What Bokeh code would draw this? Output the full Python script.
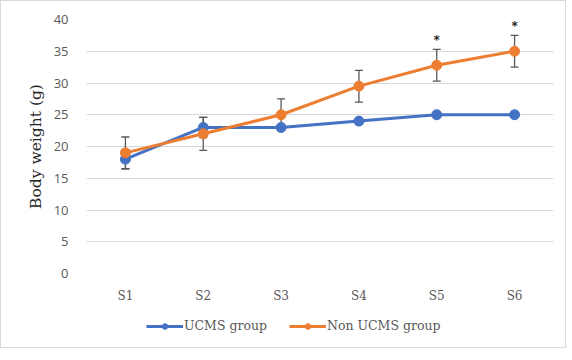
from bokeh.plotting import figure
from bokeh.layouts import column
from bokeh.models import (ColumnDataSource, FactorRange, Whisker, TeeHead, Legend, LegendItem,
                          SingleIntervalTicker, Range1d)
from bokeh.core.properties import value
from bokeh.embed import file_html
from bokeh.resources import INLINE

sessions = ["S1", "S2", "S3", "S4", "S5", "S6"]
ucms = [18, 23, 23, 24, 25, 25]
ucms_err = [1.5, 1.6, 0, 0, 0, 0]
non_ucms = [19, 22, 25, 29.5, 32.8, 35]
non_ucms_err = [2.5, 2.6, 2.5, 2.5, 2.5, 2.5]
significance = ["", "", "", "", "*", "*"]
series_names = ["UCMS group", "Non UCMS group"]

BLUE = "#4472C4"
ORANGE = "#ED7D31"
GREY = "#595959"

p = figure(x_range=FactorRange(*sessions, range_padding=0), y_range=Range1d(0, 40),
           width=564, height=304, output_backend="svg", toolbar_location=None,
           min_border_left=85, min_border_right=12, min_border_top=18, min_border_bottom=26)
p.outline_line_color = None
p.background_fill_color = "white"
p.border_fill_color = "white"

p.xgrid.grid_line_color = None
p.ygrid.grid_line_color = "#d9d9d9"
p.ygrid.grid_line_width = 1
p.yaxis.ticker = SingleIntervalTicker(interval=5)

for ax in (p.xaxis, p.yaxis):
    ax.axis_line_color = None
    ax.major_tick_line_color = None
    ax.minor_tick_line_color = None
    ax.major_label_text_color = GREY

p.yaxis.major_label_text_font = "Open Sans"
p.yaxis.major_label_text_font_size = "13px"
p.yaxis.major_label_standoff = 12
p.yaxis.axis_label = "Body weight (g)"
p.yaxis.axis_label_text_font = "DejaVu Serif"
p.yaxis.axis_label_text_font_style = "normal"
p.yaxis.axis_label_text_font_size = "15.5px"
p.yaxis.axis_label_text_color = "#262626"
p.yaxis.axis_label_standoff = 6

p.xaxis.major_label_text_font = "DejaVu Serif"
p.xaxis.major_label_text_font_size = "12px"
p.xaxis.major_label_standoff = 9

src = ColumnDataSource(dict(x=sessions, ucms=ucms, non=non_ucms))

u_idx = [i for i, e in enumerate(ucms_err) if e > 0]
src_ue = ColumnDataSource(dict(x=[sessions[i] for i in u_idx],
                               lo=[ucms[i] - ucms_err[i] for i in u_idx],
                               hi=[ucms[i] + ucms_err[i] for i in u_idx]))
src_ne = ColumnDataSource(dict(x=sessions,
                               lo=[v - e for v, e in zip(non_ucms, non_ucms_err)],
                               hi=[v + e for v, e in zip(non_ucms, non_ucms_err)]))

def whisker(source):
    w = Whisker(source=source, base="x", lower="lo", upper="hi", line_color=GREY, line_width=1.3,
                upper_head=TeeHead(size=8, line_color=GREY, line_width=1.3),
                lower_head=TeeHead(size=8, line_color=GREY, line_width=1.3))
    p.add_layout(w)

whisker(src_ue)
p.line("x", "ucms", source=src, line_color=BLUE, line_width=3)
p.scatter("x", "ucms", source=src, size=10, fill_color=BLUE, line_color=BLUE)

whisker(src_ne)
p.line("x", "non", source=src, line_color=ORANGE, line_width=3)
p.scatter("x", "non", source=src, size=10, fill_color=ORANGE, line_color=ORANGE)

star_src = ColumnDataSource(dict(x=sessions, y=[v + e + 1.4 for v, e in zip(non_ucms, non_ucms_err)],
                                 t=significance))
p.text("x", "y", text="t", source=star_src, text_align="center", text_baseline="middle",
       text_font=value("DejaVu Sans"), text_font_size="12px", text_font_style="bold", text_color="#262626")

# legend strip under the chart (legend keys only, no data drawn here)
lf = figure(width=564, height=42, output_backend="svg", toolbar_location=None,
            x_range=Range1d(0, 1), y_range=Range1d(0, 1),
            x_axis_location=None, y_axis_location=None,
            min_border_left=0, min_border_right=0, min_border_top=0, min_border_bottom=0)
lf.grid.grid_line_color = None
lf.outline_line_color = None
lf.border_fill_color = "white"
lf.background_fill_color = "white"

nan = float("nan")
items = []
for name, color in zip(series_names, [BLUE, ORANGE]):
    key_src = ColumnDataSource(dict(x=[nan], y=[nan]))
    r1 = lf.line("x", "y", source=key_src, line_color=color, line_width=3)
    r2 = lf.scatter("x", "y", source=key_src, size=9, fill_color=color, line_color=color)
    items.append(LegendItem(label=name, renderers=[r1, r2]))

legend = Legend(items=items, orientation="horizontal", location=(60, 14),
                glyph_width=37, glyph_height=14, label_standoff=1, spacing=22,
                label_text_font="DejaVu Serif", label_text_font_size="12.5px",
                label_text_color=GREY, border_line_color=None, background_fill_alpha=0,
                padding=0, margin=0)
lf.add_layout(legend)

layout = column(p, lf, spacing=0, styles={"border": "1px solid #d9d9d9"})

open("out.html", "w").write(file_html(layout, INLINE))
